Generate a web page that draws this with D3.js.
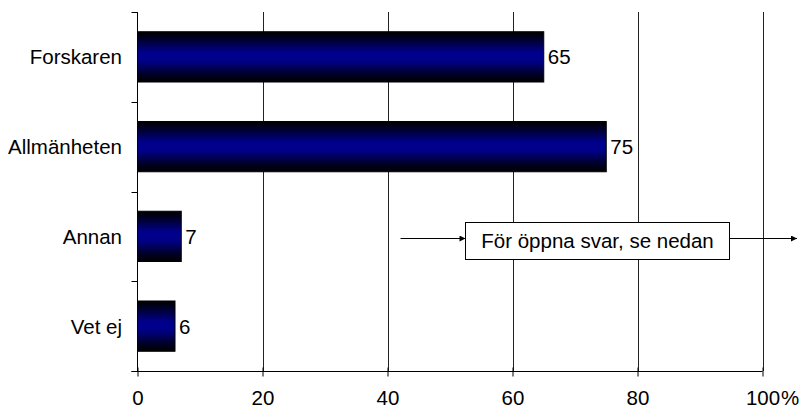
<!DOCTYPE html>
<html>
<head>
<meta charset="utf-8">
<script src="https://cdn.jsdelivr.net/npm/d3@7/dist/d3.min.js"></script>
<style>
  html, body { margin: 0; padding: 0; background: #fff; }
  svg { display: block; }
  text { font-family: "Liberation Sans", Arial, sans-serif; fill: #000; }
</style>
</head>
<body>
<svg id="chart" width="802" height="409"></svg>
<script>
// ---- data ----
const categories = ["Forskaren", "Allmänheten", "Annan", "Vet ej"];
const values = [65, 75, 7, 6];
const xTicks = [0, 20, 40, 60, 80, 100];
const xTickLabels = ["0", "20", "40", "60", "80", "100"];
const noteText = "För öppna svar, se nedan";

const svg = d3.select("#chart");
const FS = 20.5;

const x = d3.scaleLinear().domain([0, 100]).range([137.5, 762.5]);
const y = d3.scaleBand().domain(categories).range([12, 371]).paddingInner(0.44).paddingOuter(0.22);

// gradient
const defs = svg.append("defs");
const grad = defs.append("linearGradient").attr("id", "barGrad")
  .attr("x1", 0).attr("y1", 0).attr("x2", 0).attr("y2", 1);
[[0, "#000000"], [0.12, "#000022"], [0.42, "#00008e"], [0.58, "#000088"], [0.86, "#000022"], [1, "#000000"]]
  .forEach(([o, c]) => grad.append("stop").attr("offset", o).attr("stop-color", c));

const arrowMarker = defs.append("marker").attr("id", "arr")
  .attr("viewBox", "0 0 10 10").attr("refX", 10).attr("refY", 5)
  .attr("markerWidth", 8).attr("markerHeight", 6).attr("markerUnits", "userSpaceOnUse")
  .attr("orient", "auto");
arrowMarker.append("path").attr("d", "M0,0 L10,5 L0,10 Z").attr("fill", "#000");

const [y0, y1] = y.range();

// gridlines
svg.append("g").selectAll("line").data(xTicks.filter(d => d > 0)).join("line")
  .attr("x1", d => Math.round(x(d)) + 0.5).attr("x2", d => Math.round(x(d)) + 0.5)
  .attr("y1", y0).attr("y2", y1)
  .attr("stroke", "#222").attr("stroke-width", 1);

// bars
svg.append("g").selectAll("rect").data(categories).join("rect")
  .attr("x", x(0))
  .attr("y", d => y(d))
  .attr("width", (d, i) => x(values[i]) - x(0))
  .attr("height", y.bandwidth())
  .attr("fill", "url(#barGrad)")
  .attr("stroke", "#000").attr("stroke-width", 1);

// value labels
svg.append("g").selectAll("text").data(categories).join("text")
  .attr("x", (d, i) => x(values[i]) + 4)
  .attr("y", d => y(d) + y.bandwidth() / 2)
  .attr("dy", "0.36em")
  .style("font-size", FS + "px")
  .text((d, i) => values[i]);

// x axis
const xAxis = d3.axisBottom(x).tickValues(xTicks).tickFormat((d, i) => xTickLabels[i])
  .tickSizeInner(5).tickSizeOuter(0).tickPadding(13.5);
const gx = svg.append("g").attr("transform", `translate(0,${Math.round(y1) + 0.5})`).call(xAxis);
gx.select(".domain").attr("stroke", "#000").attr("d", `M${x(0) - 6},0H${x(100)}`);
gx.selectAll(".tick line").attr("stroke", "#000").attr("y1", -4);
gx.selectAll(".tick text").style("font-size", FS + "px").attr("font-family", null);
gx.selectAll(".tick").filter(d => d === 100).append("text")
  .attr("x", 18).attr("y", 18.5).attr("dy", "0.71em").attr("text-anchor", "start")
  .style("font-size", FS + "px").attr("fill", "#000").text("%");

// y axis (ticks at band boundaries)
const step = y.step();
const bounds = d3.range(categories.length + 1).map(i => y0 + i * step);
const gy = svg.append("g");
gy.append("line").attr("x1", x(0)).attr("x2", x(0)).attr("y1", y0).attr("y2", y1 + 0.5).attr("stroke", "#000");
gy.selectAll("line.tk").data(bounds).join("line").attr("class", "tk")
  .attr("x1", x(0) - 6).attr("x2", x(0))
  .attr("y1", d => Math.round(d) + 0.5).attr("y2", d => Math.round(d) + 0.5)
  .attr("stroke", "#000");
gy.selectAll("text").data(categories).join("text")
  .attr("x", x(0) - 15.5)
  .attr("y", d => y(d) + y.bandwidth() / 2)
  .attr("dy", "0.36em")
  .attr("text-anchor", "end")
  .style("font-size", FS + "px")
  .text(d => d);

// annotation
const note = svg.append("g");
const arrowY = 238.5;
note.append("line").attr("x1", 400.5).attr("x2", 465.5).attr("y1", arrowY).attr("y2", arrowY)
  .attr("stroke", "#000").attr("marker-end", "url(#arr)");
note.append("line").attr("x1", 729.5).attr("x2", 797).attr("y1", arrowY).attr("y2", arrowY)
  .attr("stroke", "#000").attr("marker-end", "url(#arr)");
note.append("rect").attr("x", 465.5).attr("y", 222.5).attr("width", 264).attr("height", 37)
  .attr("fill", "#fff").attr("stroke", "#000");
note.append("text").attr("x", 597.5).attr("y", 241).attr("dy", "0.36em")
  .attr("text-anchor", "middle").style("font-size", FS + "px").text(noteText);
</script>
</body>
</html>
